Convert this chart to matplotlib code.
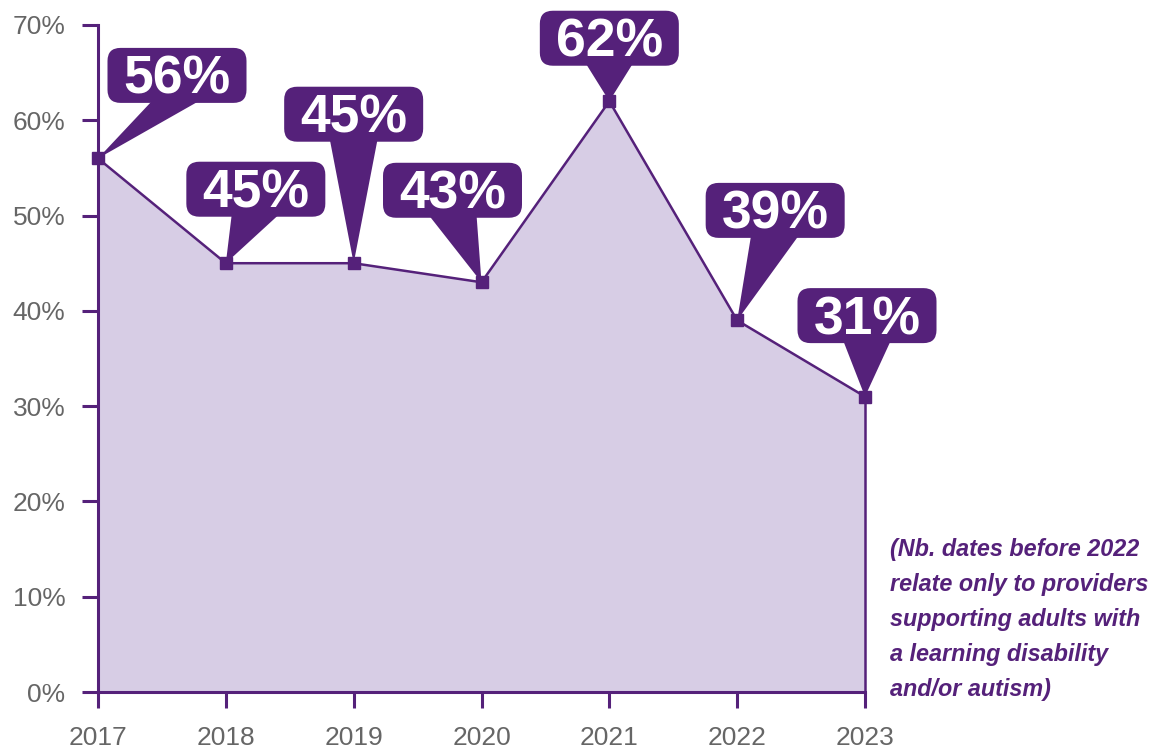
import matplotlib.pyplot as plt
import matplotlib.transforms as mtransforms
from matplotlib.patches import FancyBboxPatch, Polygon

plt.rcParams['font.family'] = ['Liberation Sans', 'DejaVu Sans']

years = [2017, 2018, 2019, 2020, 2021, 2022, 2023]
values = [56, 45, 45, 43, 62, 39, 31]
labels = ['56%', '45%', '45%', '43%', '62%', '39%', '31%']
yticks = [0, 10, 20, 30, 40, 50, 60, 70]
note = ('(Nb. dates before 2022\nrelate only to providers\n'
        'supporting adults with\na learning disability\nand/or autism)')

# callout box centre, in pixels from the point it points at
callout_offsets = [(79, 83), (30, 74), (0, 149), (-29, 92), (0, 63), (38, 110), (2, 81)]

purple = '#55217a'
fill = '#d7cde5'
grey = '#666666'

fig = plt.figure(figsize=(11.67, 7.49), dpi=100)
ax = fig.add_axes([98 / 1167, 57 / 749, 767 / 1167, 667 / 749])

ax.fill_between(years, values, 0, color=fill, lw=0, zorder=1)
ax.plot(years, values, color=purple, lw=1.8, marker='s', markersize=8,
        clip_on=False, zorder=3)
ax.vlines(years[-1], 0, values[-1], color=purple, lw=1.8, zorder=2, clip_on=False)

ax.set_xlim(years[0], years[-1])
ax.set_ylim(0, 70)
ax.set_xticks(years)
ax.set_xticklabels([str(y) for y in years])
ax.set_yticks(yticks)
ax.set_yticklabels([f'{t}%' for t in yticks])

for s in ['top', 'right']:
    ax.spines[s].set_visible(False)
for s in ['left', 'bottom']:
    ax.spines[s].set_color(purple)
    ax.spines[s].set_linewidth(2.2)
    ax.spines[s].set_zorder(4)
ax.tick_params(axis='both', colors=purple, length=11.5, width=2.2,
               labelcolor=grey, labelsize=19)
ax.tick_params(axis='y', pad=12)
ax.tick_params(axis='x', pad=13)

# speech-bubble labels
bw, bh, wedge = 139, 55, 24
for x, v, lab, (dx, dy) in zip(years, values, labels, callout_offsets):
    tr = mtransforms.ScaledTranslation(x, v, ax.transData)
    box = FancyBboxPatch((dx - bw / 2 + 13, dy - bh / 2 + 13), bw - 26, bh - 26,
                         boxstyle='round,pad=13', fc=purple, ec='none',
                         transform=tr, clip_on=False, zorder=5)
    ax.add_patch(box)
    bot = dy - bh / 2
    tip = Polygon([(dx - wedge, bot + 3), (dx + wedge, bot + 3), (0, 0)],
                  closed=True, fc=purple, ec='none', transform=tr,
                  clip_on=False, zorder=5)
    ax.add_patch(tip)
    ax.text(dx, dy - 18.5, lab, transform=tr, ha='center', va='baseline',
            color='white', fontsize=38.5, fontweight='bold', zorder=6)

fig.text(890 / 1167, 1 - 538 / 749, note, ha='left', va='top', color=purple,
         fontsize=16.8, fontweight='bold', fontstyle='italic', linespacing=1.66)

fig.savefig('out.png', dpi=100)
